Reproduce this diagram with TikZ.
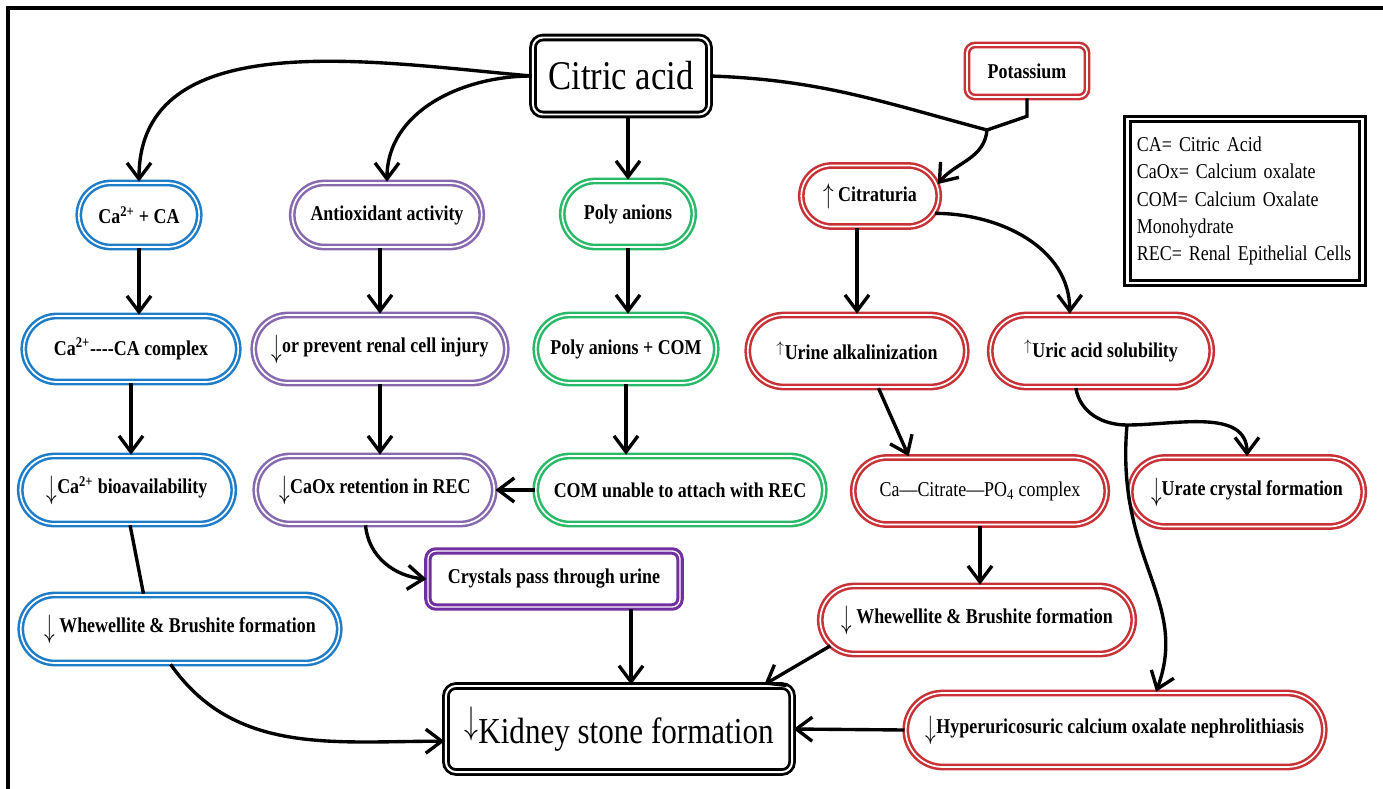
\documentclass[tikz,border=0pt]{standalone}
\usepackage{fontspec}
\setmainfont{Liberation Serif}[FakeStretch=0.85]
\usetikzlibrary{arrows.meta,shapes.misc}
\definecolor{pillblue}{RGB}{30,125,200}
\definecolor{pillpurple}{RGB}{135,105,175}
\definecolor{pillgreen}{RGB}{40,185,105}
\definecolor{pillred}{RGB}{200,50,55}
\definecolor{darkpurple}{RGB}{112,48,160}
\newcommand\nodetxt{\fontsize{15}{18}\selectfont\bfseries}
\newcommand\dnarrow{\raisebox{-0.45ex}{\scalebox{1.05}[1.6]{$\downarrow$}}}
\newcommand\uparr{\raisebox{-0.2ex}{\scalebox{1.05}[1.4]{$\uparrow$}}}

\begin{document}
\begin{tikzpicture}[x=0.025cm,y=-0.025cm,
  pill/.style={shape=rounded rectangle,draw=#1,line width=1.8pt,double=white,double distance=1.2pt,fill=white,font=\nodetxt,inner sep=2pt},
  tile/.style={shape=rectangle,draw=#1,line width=1.8pt,double=white,double distance=1.2pt,rounded corners=0.2cm,fill=white,font=\nodetxt},
  link/.style={line width=2.4pt,-{Straight Barb[length=4mm,width=6mm]}},
  wire/.style={line width=2.4pt}]
\useasboundingbox (0,0) rectangle (1383,789);
\draw[line width=2.2pt] (8,789) -- (8,8) -- (1383,8);

\node[draw,line width=2pt,double=white,double distance=1.4pt,rounded corners=0.25cm,minimum width=4.4cm,minimum height=1.925cm,fill=white,font=\fontsize{29}{34}\selectfont] (cit) at (621,76) {Citric acid};
\node[tile=pillred,minimum width=3.0cm,minimum height=1.3cm] (pot) at (1027,71) {Potassium};
\node[draw,line width=2.2pt,double=white,double distance=1.8pt,minimum width=5.875cm,minimum height=4.1cm,text width=5.4cm,align=left,font=\fontsize{15}{19.5}\selectfont] (key) at (1245,201) {CA= Citric Acid\\CaOx= Calcium oxalate\\COM= Calcium Oxalate\\Monohydrate\\REC= Renal Epithelial Cells};

\node[pill=pillblue,minimum width=3.15cm,minimum height=1.6cm] (ca2) at (139,215) {Ca\textsuperscript{2+} + CA};
\node[pill=pillpurple,minimum width=4.875cm,minimum height=1.6cm] (anti) at (387,215) {Antioxidant activity};
\node[pill=pillgreen,minimum width=3.425cm,minimum height=1.65cm] (poly) at (628,214) {Poly anions};
\node[pill=pillred,minimum width=3.575cm,minimum height=1.525cm] (citr) at (870,196) {\uparr\ Citraturia};

\node[pill=pillblue,minimum width=5.5cm,minimum height=1.65cm] (cacx) at (131,349) {Ca\textsuperscript{2+}-{}-{}-{}-CA complex};
\node[pill=pillpurple,minimum width=6.45cm,minimum height=1.7cm] (prev) at (380,349) {\dnarrow or prevent renal cell injury};
\node[pill=pillgreen,minimum width=4.65cm,minimum height=1.7cm] (pcom) at (626,349) {Poly anions + COM};
\node[pill=pillred,minimum width=5.6cm,minimum height=1.8cm] (urine) at (857,351) {\textsuperscript{$\uparrow$}Urine alkalinization};
\node[pill=pillred,minimum width=5.675cm,minimum height=1.8cm] (uric) at (1101,351) {\textsuperscript{$\uparrow$}Uric acid solubility};

\node[pill=pillblue,minimum width=5.475cm,minimum height=1.7cm] (bio) at (127,490) {\dnarrow Ca\textsuperscript{2+} bioavailability};
\node[pill=pillpurple,minimum width=6.1cm,minimum height=1.7cm] (ret) at (375,490) {\dnarrow CaOx retention in REC};
\node[pill=pillgreen,minimum width=7.35cm,minimum height=1.7cm] (com) at (680,490) {COM unable to attach with REC};
\node[pill=pillred,minimum width=6.475cm,minimum height=1.675cm,font=\fontsize{15}{18}\selectfont] (cacit) at (980,491) {Ca—Citrate—PO\textsubscript{4} complex};
\node[pill=pillred,minimum width=5.975cm,minimum height=1.725cm] (urate) at (1247,492) {\dnarrow Urate crystal formation};

\node[tile=darkpurple,line width=2.2pt,double distance=0.9pt,minimum width=6.3cm,minimum height=1.4cm] (cry) at (554,579) {Crystals pass through urine};
\node[pill=pillblue,minimum width=8.1cm,minimum height=1.7cm] (whb) at (180,629) {\dnarrow\ Whewellite \& Brushite formation};
\node[pill=pillred,minimum width=7.975cm,minimum height=1.7cm] (whr) at (977,620) {\dnarrow\ Whewellite \& Brushite formation};

\node[draw,line width=2pt,double=white,double distance=1.4pt,rounded corners=0.25cm,minimum width=8.65cm,minimum height=2.15cm,fill=white,font=\fontsize{26}{30}\selectfont] (kid) at (619,729) {\raisebox{0.6ex}{\scalebox{0.8}[1.1]{$\downarrow$}}Kidney stone formation};
\node[pill=pillred,minimum width=10.6cm,minimum height=1.85cm] (hyp) at (1115,730) {\dnarrow Hyperuricosuric calcium oxalate nephrolithiasis};

\coordinate (kj) at (987,130);
\coordinate (uj) at (1127,425);

\draw[link] (cit.west) to[out=175,in=90] (ca2.north);
\draw[link] (cit.west) to[out=180,in=90] (anti.north);
\draw[link] (cit.south -| poly.north) -- (poly.north);
\draw[link] (cit.east) to[out=-2,in=165] (kj) to[out=-95,in=50] (citr.10);
\draw[wire] (pot.south) -- ++(0,18) -- (kj);
\draw[link] (citr.-15) to[out=0,in=90] (uric.130);

\draw[link] (ca2.south) -- (ca2.south |- cacx.north);
\draw[link] (prev.north |- anti.south) -- (prev.north);
\draw[link] (poly.south) -- (poly.south |- pcom.north);
\draw[link] (urine.north |- citr.south) -- (urine.north);

\draw[link] (cacx.south) -- (cacx.south |- bio.north);
\draw[link] (prev.south) -- (prev.south |- ret.north);
\draw[link] (pcom.south) -- (pcom.south |- com.north);
\draw[link] (com.west) -- (ret.east);
\draw[link] (urine.-60) -- (cacit.154);
\draw[link] (uric.-124) to[out=-80,in=180] (uj) to[out=0,in=90] (urate.north);
\draw[link] (uj) .. controls (1115,560) and (1190,600) .. (hyp.43);

\draw[wire] (bio.-85) -- (whb.136);
\draw[link] (whb.-105) to[out=-55,in=180] (kid.184);
\draw[link] (ret.-105) to[out=-85,in=175] (cry.west);
\draw[link] (cry.-21) -- (kid.north -| cry.-21);
\draw[link] (cacit.south) -- (cacit.south |- whr.north);
\draw[link] (whr.190) -- (kid.17);
\draw[link] (hyp.west) -- (kid.east);
\end{tikzpicture}
\end{document}
